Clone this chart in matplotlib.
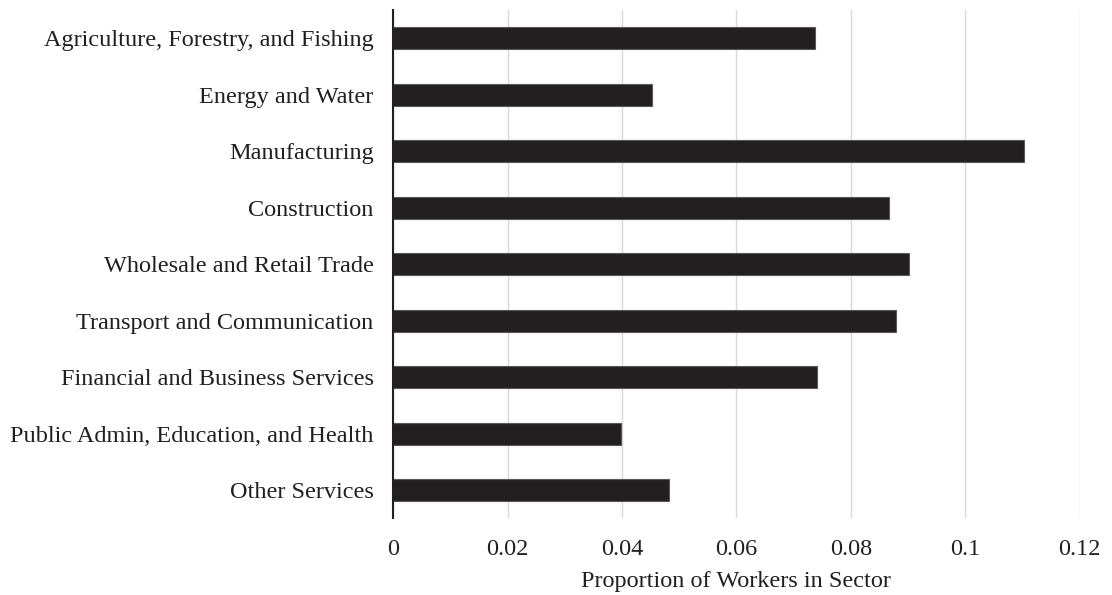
import numpy as np
import matplotlib.pyplot as plt

plt.rcParams['font.family'] = ['Liberation Serif', 'DejaVu Serif']

sectors = ["Agriculture, Forestry, and Fishing", "Energy and Water", "Manufacturing",
           "Construction", "Wholesale and Retail Trade", "Transport and Communication",
           "Financial and Business Services", "Public Admin, Education, and Health",
           "Other Services"]
share = [0.0737, 0.0453, 0.1102, 0.0866, 0.0901, 0.0879, 0.0741, 0.0399, 0.0482]
xticks = [0, 0.02, 0.04, 0.06, 0.08, 0.1, 0.12]
xtick_labels = ["0", "0.02", "0.04", "0.06", "0.08", "0.1", "0.12"]

fig = plt.figure(figsize=(11.12, 5.95), dpi=100)
ax = fig.add_axes([0.3535, 0.129, 0.6175, 0.854])

y = np.arange(len(sectors))
ax.barh(y, share, height=0.39, color='#231f20', edgecolor='#5a5758', linewidth=0.8, zorder=3)

ax.set_ylim(len(sectors) - 0.5, -0.5)
ax.set_xlim(0, 0.12)
ax.set_yticks(y)
ax.set_yticklabels(sectors)
ax.set_xticks(xticks)
ax.set_xticklabels(xtick_labels)
ax.tick_params(axis='both', length=0, labelsize=17.5, colors='#231f20')
ax.tick_params(axis='y', pad=14)
ax.tick_params(axis='x', pad=15)

ax.grid(axis='x', color='#d9d9d9', linewidth=1, zorder=0)
for s in ['top', 'right', 'bottom']:
    ax.spines[s].set_visible(False)
ax.spines['left'].set_color('#231f20')
ax.spines['left'].set_linewidth(1.5)
ax.spines['left'].set_zorder(4)

ax.set_xlabel("Proportion of Workers in Sector", fontsize=17.5, color='#231f20', labelpad=8)

fig.savefig("out.png", dpi=100)
